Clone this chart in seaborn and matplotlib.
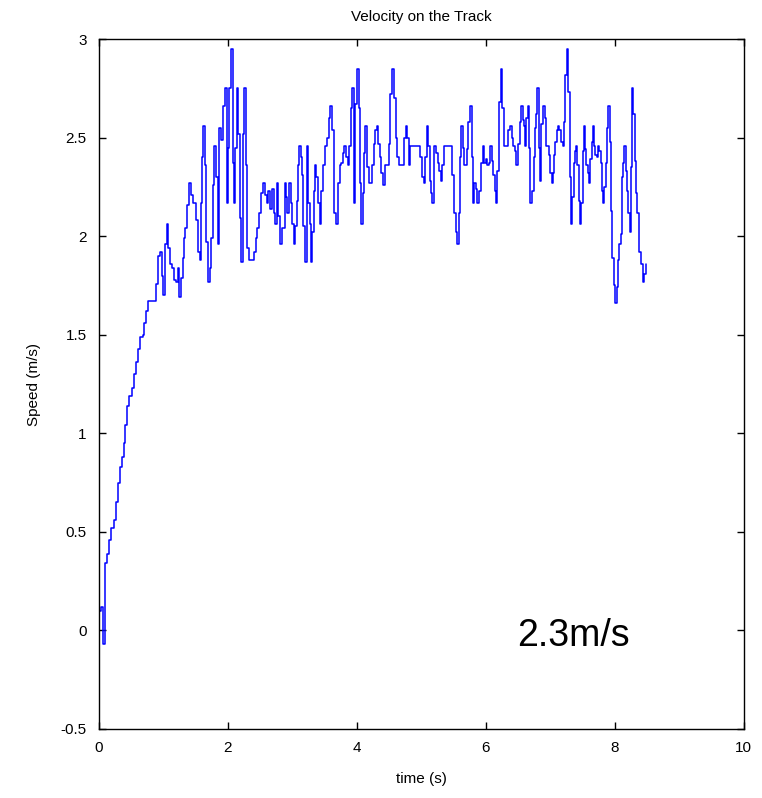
import matplotlib
matplotlib.use("Agg")
import pandas as pd
import seaborn as sns
import matplotlib.pyplot as plt

# time (s) and speed (m/s)
t = [0.00, 0.03, 0.06, 0.09, 0.13, 0.16, 0.18, 0.23, 0.26, 0.29, 0.32, 0.35, 0.38, 0.40, 0.43, 0.46,
     0.51, 0.54, 0.57, 0.60, 0.63, 0.68, 0.70, 0.73, 0.76, 0.80, 0.84, 0.89, 0.92, 0.95, 0.97, 0.99,
     1.02, 1.05, 1.07, 1.10, 1.13, 1.16, 1.19, 1.22, 1.24, 1.27, 1.30, 1.32, 1.34, 1.37, 1.39, 1.42,
     1.45, 1.48, 1.51, 1.53, 1.56, 1.58, 1.60, 1.62, 1.64, 1.66, 1.69, 1.72, 1.74, 1.76, 1.79, 1.81,
     1.84, 1.86, 1.89, 1.92, 1.95, 1.98, 2.00, 2.02, 2.05, 2.07, 2.09, 2.11, 2.14, 2.16, 2.18, 2.20,
     2.23, 2.25, 2.28, 2.30, 2.33, 2.36, 2.40, 2.43, 2.45, 2.48, 2.51, 2.54, 2.57, 2.60, 2.62, 2.65,
     2.68, 2.71, 2.73, 2.76, 2.78, 2.81, 2.84, 2.88, 2.90, 2.92, 2.94, 2.97, 3.00, 3.02, 3.04, 3.07,
     3.08, 3.10, 3.13, 3.15, 3.17, 3.19, 3.22, 3.24, 3.27, 3.28, 3.30, 3.33, 3.35, 3.37, 3.40, 3.43,
     3.45, 3.47, 3.50, 3.54, 3.56, 3.59, 3.61, 3.64, 3.65, 3.68, 3.70, 3.73, 3.76, 3.78, 3.80, 3.83,
     3.86, 3.88, 3.91, 3.93, 3.95, 3.97, 4.00, 4.03, 4.05, 4.07, 4.09, 4.11, 4.13, 4.15, 4.18, 4.21,
     4.23, 4.26, 4.28, 4.31, 4.33, 4.36, 4.38, 4.41, 4.43, 4.47, 4.50, 4.52, 4.54, 4.57, 4.60, 4.62,
     4.65, 4.70, 4.73, 4.76, 4.78, 4.81, 4.83, 4.90, 4.95, 4.98, 5.01, 5.04, 5.06, 5.08, 5.10, 5.13,
     5.15, 5.17, 5.20, 5.22, 5.25, 5.27, 5.30, 5.32, 5.35, 5.40, 5.45, 5.48, 5.51, 5.53, 5.55, 5.58,
     5.60, 5.62, 5.64, 5.66, 5.69, 5.71, 5.73, 5.75, 5.78, 5.80, 5.82, 5.85, 5.87, 5.90, 5.92, 5.95,
     5.97, 6.00, 6.02, 6.05, 6.07, 6.09, 6.11, 6.14, 6.16, 6.18, 6.20, 6.23, 6.25, 6.28, 6.32, 6.34,
     6.37, 6.40, 6.42, 6.45, 6.47, 6.50, 6.53, 6.55, 6.57, 6.59, 6.61, 6.63, 6.65, 6.67, 6.69, 6.71,
     6.74, 6.76, 6.78, 6.80, 6.82, 6.84, 6.86, 6.88, 6.91, 6.93, 6.96, 6.98, 7.00, 7.02, 7.04, 7.06,
     7.08, 7.10, 7.12, 7.14, 7.17, 7.19, 7.21, 7.23, 7.26, 7.28, 7.30, 7.32, 7.34, 7.36, 7.38, 7.40,
     7.42, 7.44, 7.46, 7.48, 7.50, 7.52, 7.54, 7.56, 7.58, 7.60, 7.62, 7.64, 7.66, 7.68, 7.70, 7.72,
     7.74, 7.76, 7.78, 7.80, 7.82, 7.84, 7.86, 7.88, 7.90, 7.92, 7.94, 7.96, 7.99, 8.01, 8.03, 8.05,
     8.07, 8.09, 8.11, 8.13, 8.15, 8.17, 8.19, 8.21, 8.23, 8.25, 8.27, 8.29, 8.31, 8.33, 8.35, 8.37,
     8.40, 8.43, 8.45, 8.48]

speed = [0.10, 0.12, -0.07, 0.34, 0.39, 0.46, 0.52, 0.56, 0.65, 0.75, 0.83, 0.88, 0.95, 1.04, 1.14, 1.19,
         1.23, 1.30, 1.36, 1.43, 1.49, 1.50, 1.56, 1.62, 1.67, 1.67, 1.67, 1.76, 1.90, 1.92, 1.80, 1.70,
         1.96, 2.06, 1.94, 1.86, 1.84, 1.78, 1.77, 1.84, 1.69, 1.79, 1.89, 1.99, 2.04, 2.16, 2.27, 2.21,
         2.17, 2.17, 2.08, 1.92, 1.88, 2.17, 2.40, 2.56, 2.36, 1.97, 1.77, 1.84, 1.99, 2.26, 2.46, 2.30,
         1.96, 2.55, 2.49, 2.66, 2.75, 2.17, 2.45, 2.75, 2.95, 2.37, 2.17, 2.45, 2.75, 2.52, 2.09, 1.87,
         2.52, 2.75, 2.36, 1.94, 1.88, 1.88, 1.92, 1.99, 2.04, 2.12, 2.22, 2.27, 2.21, 2.17, 2.23, 2.14,
         2.24, 2.12, 2.06, 2.27, 2.10, 1.96, 2.04, 2.27, 2.20, 2.12, 2.27, 2.17, 2.06, 1.96, 2.05, 2.18,
         2.36, 2.46, 2.40, 2.31, 2.05, 1.87, 2.46, 2.17, 2.06, 1.87, 2.02, 2.23, 2.36, 2.30, 2.17, 2.06,
         2.23, 2.36, 2.46, 2.50, 2.60, 2.66, 2.54, 2.28, 2.12, 2.06, 2.27, 2.36, 2.37, 2.42, 2.46, 2.40,
         2.36, 2.46, 2.65, 2.75, 2.17, 2.67, 2.85, 2.65, 2.27, 2.06, 2.22, 2.42, 2.56, 2.35, 2.27, 2.27,
         2.36, 2.47, 2.54, 2.56, 2.47, 2.40, 2.32, 2.26, 2.36, 2.36, 2.47, 2.72, 2.85, 2.70, 2.50, 2.40,
         2.36, 2.36, 2.50, 2.56, 2.50, 2.36, 2.46, 2.46, 2.46, 2.40, 2.30, 2.27, 2.40, 2.56, 2.46, 2.28,
         2.22, 2.17, 2.46, 2.42, 2.37, 2.33, 2.28, 2.36, 2.46, 2.46, 2.46, 2.31, 2.12, 2.02, 1.96, 2.12,
         2.40, 2.56, 2.45, 2.36, 2.36, 2.44, 2.58, 2.66, 2.40, 2.17, 2.27, 2.24, 2.17, 2.23, 2.37, 2.46,
         2.37, 2.39, 2.36, 2.37, 2.46, 2.38, 2.31, 2.23, 2.17, 2.33, 2.68, 2.85, 2.65, 2.46, 2.46, 2.54,
         2.56, 2.50, 2.46, 2.43, 2.36, 2.47, 2.58, 2.66, 2.59, 2.56, 2.46, 2.60, 2.66, 2.45, 2.17, 2.23,
         2.40, 2.55, 2.62, 2.75, 2.45, 2.28, 2.57, 2.66, 2.60, 2.46, 2.46, 2.41, 2.32, 2.27, 2.32, 2.41,
         2.48, 2.54, 2.56, 2.54, 2.48, 2.46, 2.58, 2.82, 2.95, 2.73, 2.30, 2.06, 2.20, 2.37, 2.43, 2.46,
         2.36, 2.18, 2.06, 2.17, 2.43, 2.56, 2.44, 2.36, 2.32, 2.27, 2.39, 2.48, 2.56, 2.46, 2.41, 2.40,
         2.46, 2.43, 2.37, 2.23, 2.17, 2.25, 2.37, 2.55, 2.66, 2.48, 2.13, 1.89, 1.75, 1.66, 1.74, 1.88,
         1.96, 2.01, 2.30, 2.37, 2.46, 2.33, 2.23, 2.12, 2.02, 2.35, 2.75, 2.62, 2.38, 2.22, 2.12, 1.92,
         1.86, 1.77, 1.81, 1.86]

x_ticks = [0, 2, 4, 6, 8, 10]
y_ticks = [-0.5, 0, 0.5, 1, 1.5, 2, 2.5, 3]
y_tick_labels = ["-0.5", "0", "0.5", "1", "1.5", "2", "2.5", "3"]

df = pd.DataFrame({"time": t, "speed": speed})

sns.set_style("ticks")
plt.rcParams["font.family"] = ["Liberation Sans", "DejaVu Sans"]
plt.rcParams["text.color"] = "black"
plt.rcParams["axes.labelcolor"] = "black"
plt.rcParams["xtick.color"] = "black"
plt.rcParams["ytick.color"] = "black"

fig = plt.figure(figsize=(7.62, 7.98), dpi=100)
ax = fig.add_axes([0.130, 0.0865, 0.846, 0.8645])

sns.lineplot(data=df, x="time", y="speed", ax=ax, color="#0000ff", linewidth=1.1,
             estimator=None, sort=False, drawstyle="steps-post")

ax.set_xlim(0, 10)
ax.set_ylim(-0.5, 3)
ax.set_xticks(x_ticks)
ax.set_yticks(y_ticks)
ax.set_yticklabels(y_tick_labels)
ax.tick_params(axis="x", direction="in", top=True, length=5, width=1, labelsize=11, pad=9)
ax.tick_params(axis="y", direction="in", right=True, length=5, width=1, labelsize=11, pad=9)
for s in ax.spines.values():
    s.set_visible(True)
    s.set_linewidth(1.0)
    s.set_color("black")

ax.set_title("Velocity on the Track", fontsize=11, pad=13)
ax.set_xlabel("time (s)", fontsize=11, labelpad=12)
ax.set_ylabel("Speed (m/s)", fontsize=11, labelpad=14)

ax.text(6.48, -0.03, "2.3m/s", fontsize=27, va="center", ha="left", color="black")

plt.savefig("out.png", dpi=100)
